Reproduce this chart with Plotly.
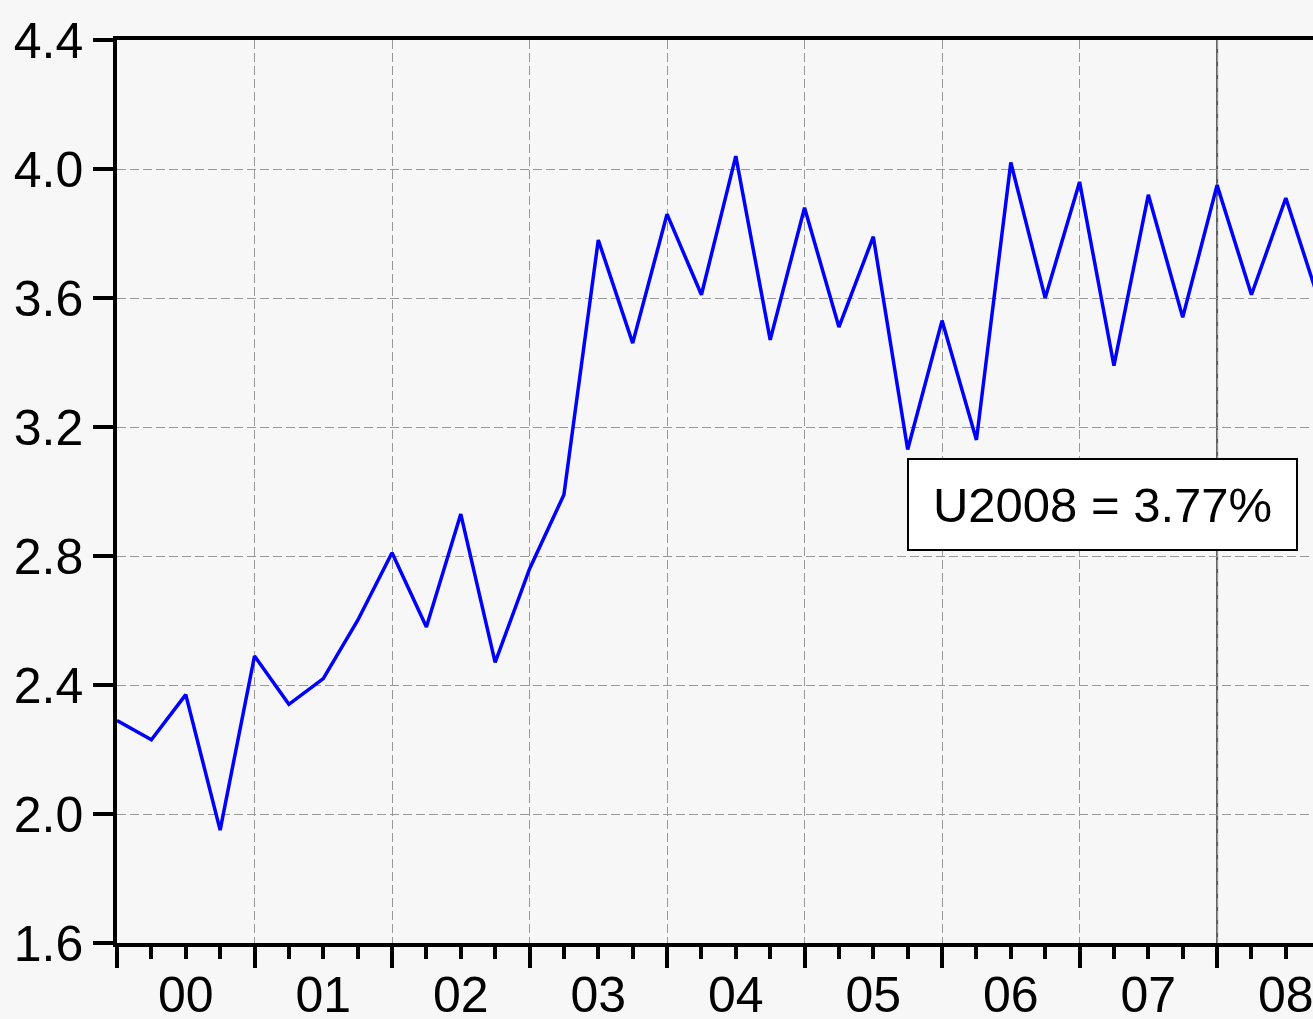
import plotly.graph_objects as go

# Quarterly observations 2000Q1 .. 2008Q4 (index 0 = 2000Q1)
quarters = list(range(36))
values = [2.29, 2.23, 2.37, 1.95,
          2.49, 2.34, 2.42, 2.60,
          2.81, 2.58, 2.93, 2.47,
          2.76, 2.99, 3.78, 3.46,
          3.86, 3.61, 4.04, 3.47,
          3.88, 3.51, 3.79, 3.13,
          3.53, 3.16, 4.02, 3.60,
          3.96, 3.39, 3.92, 3.54,
          3.95, 3.61, 3.91, 3.58]
year_labels = ["00", "01", "02", "03", "04", "05", "06", "07", "08"]
year_starts = [0, 4, 8, 12, 16, 20, 24, 28, 32]
year_label_pos = [2, 6, 10, 14, 18, 22, 26, 30, 34]
y_ticks = [1.6, 2.0, 2.4, 2.8, 3.2, 3.6, 4.0, 4.4]
marker_quarter = 32  # 2008Q1
note_text = "U2008 = 3.77%"

FONT = "Liberation Sans, Arial, sans-serif"
BG = "#f7f7f7"
x_range = [0, 34.79]

fig = go.Figure()
fig.add_trace(go.Scatter(x=quarters, y=values, mode="lines",
                         line=dict(color="#0000ff", width=3.5), showlegend=False))
# invisible trace to activate label axis
fig.add_trace(go.Scatter(x=[None], y=[None], xaxis="x2", showlegend=False))

fig.add_shape(type="line", x0=marker_quarter, x1=marker_quarter, y0=1.6, y1=4.4,
              xref="x", yref="y", line=dict(color="#555555", width=2), layer="below")

fig.add_annotation(x=28.67, y=2.96, xref="x", yref="y", text=note_text,
                   showarrow=False, font=dict(family=FONT, size=49, color="black"),
                   bgcolor="white", bordercolor="black", borderwidth=2, borderpad=0,
                   width=387, height=89, xanchor="center", yanchor="middle")

fig.update_layout(
    width=1313, height=1019,
    margin=dict(l=117, r=0, t=40, b=76, autoexpand=False),
    paper_bgcolor=BG, plot_bgcolor=BG,
    font=dict(family=FONT, size=50, color="black"),
    xaxis=dict(range=x_range, tickmode="array", tickvals=year_starts,
               showticklabels=False, ticks="outside", ticklen=21, tickwidth=3.5,
               tickcolor="black", showline=True, linewidth=3.5, linecolor="black",
               mirror=True, showgrid=True, gridcolor="#999999", gridwidth=1.2,
               griddash="9px,4px", zeroline=False, automargin=False,
               minor=dict(tickmode="linear", tick0=0, dtick=1, ticks="outside",
                          ticklen=12, tickwidth=3.5, tickcolor="black", showgrid=False)),
    xaxis2=dict(range=x_range, overlaying="x", side="bottom", tickmode="array",
                tickvals=year_label_pos, ticktext=year_labels, ticks="outside",
                ticklen=8, tickcolor="rgba(0,0,0,0)", showgrid=False,
                showline=False, zeroline=False, automargin=False,
                ticklabeloverflow="allow",
                tickfont=dict(family=FONT, size=50, color="black")),
    yaxis=dict(range=[1.6, 4.4], tickmode="array", tickvals=y_ticks,
               ticktext=[f"{v:.1f}" for v in y_ticks], ticks="outside", ticklen=20,
               tickwidth=3.5, tickcolor="black", showline=True, linewidth=3.5,
               linecolor="black", showgrid=True, gridcolor="#999999", gridwidth=1.2,
               griddash="9px,4px", zeroline=False, automargin=False,
               tickfont=dict(family=FONT, size=50, color="black")),
)

fig.write_html("out.html", config={"displayModeBar": False},
               post_script="document.body.style.margin='0';document.body.style.overflow='hidden';")
